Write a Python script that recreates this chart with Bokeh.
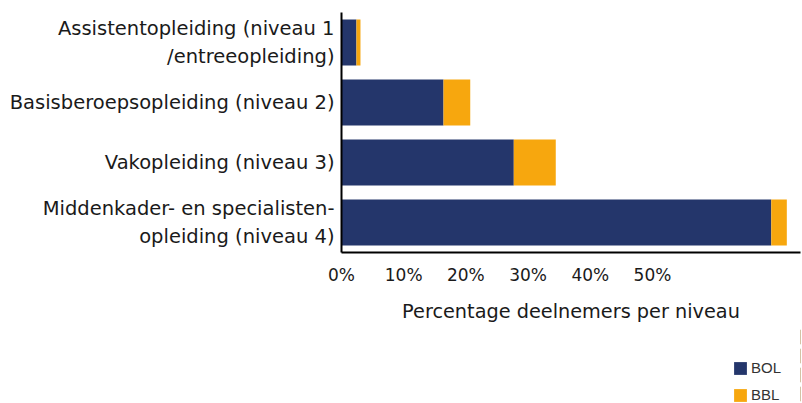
from bokeh.plotting import figure
from bokeh.models import (ColumnDataSource, FactorRange, Range1d, FixedTicker,
                          PrintfTickFormatter, Legend, LegendItem)
from bokeh.layouts import column
from bokeh.embed import file_html
from bokeh.resources import INLINE

# ---- data ----
niveaus = [
    "Assistentopleiding (niveau 1\n/entreeopleiding)",
    "Basisberoepsopleiding (niveau 2)",
    "Vakopleiding (niveau 3)",
    "Middenkader- en specialisten-\nopleiding (niveau 4)",
]
bol = [2.4, 16.4, 27.7, 69.1]
bbl = [0.65, 4.3, 6.75, 2.5]
tick_values = [0, 10, 20, 30, 40, 50]
series = ["BOL", "BBL"]
colors = ["#24366b", "#f7a70e"]

FONT = "DejaVu Sans"

source = ColumnDataSource(dict(niveau=niveaus, BOL=bol, BBL=bbl))
y_range = FactorRange(factors=list(reversed(niveaus)))

p = figure(
    y_range=y_range,
    x_range=Range1d(0, 73.8),
    width=802, height=327,
    output_backend="svg", toolbar_location=None,
    min_border_left=341, min_border_right=2, min_border_top=12,
    min_border_bottom=75,
)
p.outline_line_color = None
p.xgrid.grid_line_color = None
p.ygrid.grid_line_color = None

renderers = p.hbar_stack(series, y="niveau", height=0.767, color=colors,
                         line_color=None, source=source)

# x axis
xa = p.xaxis[0]
xa.ticker = FixedTicker(ticks=tick_values)
xa.formatter = PrintfTickFormatter(format="%d%%")
xa.axis_label = "Percentage deelnemers per niveau"
xa.axis_line_color = "black"
xa.axis_line_width = 2
xa.major_tick_line_color = None
xa.minor_tick_line_color = None
xa.major_label_text_font = FONT
xa.major_label_text_font_size = "17px"
xa.major_label_text_color = "#1a1a1a"
xa.major_label_standoff = 6
xa.axis_label_text_font = FONT
xa.axis_label_text_font_size = "19.3px"
xa.axis_label_text_font_style = "normal"
xa.axis_label_text_color = "#1a1a1a"
xa.axis_label_standoff = 12

# y axis
ya = p.yaxis[0]
ya.axis_line_color = "black"
ya.axis_line_width = 2
ya.major_tick_line_color = None
ya.minor_tick_line_color = None
ya.major_label_text_font = FONT
ya.major_label_text_font_size = "19.5px"
ya.major_label_text_color = "#1a1a1a"
ya.major_label_standoff = 1

# legend strip below the chart: same stacked series, scrolled far out of view,
# only used to draw the legend swatches
q = figure(width=802, height=76, output_backend="svg", toolbar_location=None,
           x_axis_location=None, y_axis_location=None,
           min_border_left=0, min_border_right=0, min_border_top=0,
           min_border_bottom=0, x_range=Range1d(-1000, -999), y_range=y_range)
q.outline_line_color = None
q.xgrid.grid_line_color = None
q.ygrid.grid_line_color = None
legend_renderers = q.hbar_stack(series, y="niveau", height=0.767, color=colors,
                                line_color=None, source=source)

legend = Legend(
    items=[LegendItem(label=s, renderers=[r]) for s, r in zip(series, legend_renderers)],
    location="bottom_right",
    orientation="vertical",
    glyph_width=16, glyph_height=16, label_height=16, label_width=49,
    spacing=10, label_standoff=3, padding=0, margin=0,
    border_line_color=None, background_fill_alpha=0,
    label_text_font="Liberation Sans", label_text_font_size="15px",
    label_text_color="#333333",
)
q.add_layout(legend)

layout = column(p, q, spacing=0)

open("out.html", "w").write(file_html(layout, INLINE))
